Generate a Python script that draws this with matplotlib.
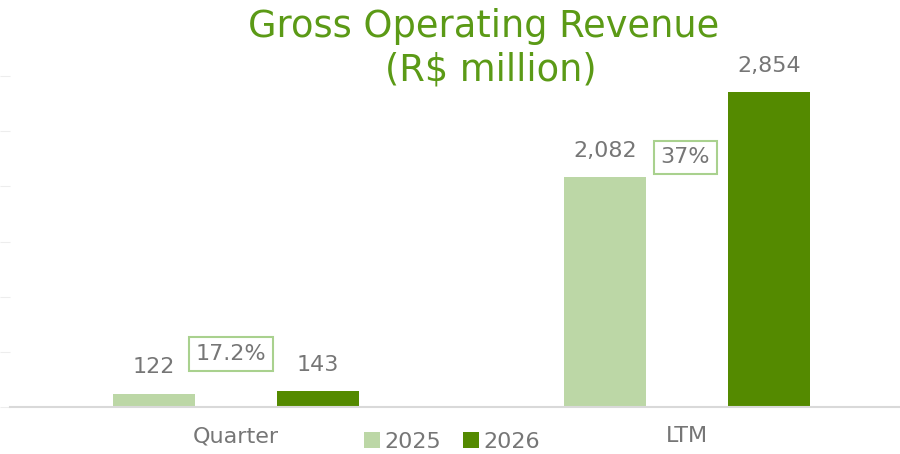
import matplotlib
matplotlib.use("Agg")
import matplotlib.pyplot as plt
import numpy as np

categories = ["Quarter", "LTM"]
series_names = ["2025", "2026"]
values_2025 = [122, 2082]
values_2026 = [143, 2854]
growth_labels = ["17.2%", "37%"]
value_labels_2025 = ["122", "2,082"]
value_labels_2026 = ["143", "2,854"]

title_lines = ["Gross Operating Revenue", "(R$ million)"]

c_light = "#BCD7A6"
c_dark = "#548A00"
c_title = "#5B9A16"
c_text = "#767676"
c_box = "#A9D18E"

plt.rcParams['font.family'] = ['DejaVu Sans']

fig = plt.figure(figsize=(9, 4.54), dpi=100)
ax = fig.add_axes([10/900, 1-407/454, 890/900, (407-21)/454])

x = np.arange(len(categories))
w = 0.182
off = 0.182
b1 = ax.bar(x - off, values_2025, w, color=c_light, label=series_names[0])
b2 = ax.bar(x + off, values_2026, w, color=c_dark, label=series_names[1])

for xi, v, lab in zip(x - off, values_2025, value_labels_2025):
    ax.annotate(lab, (xi, v), xytext=(0, 12), textcoords="offset points",
                ha="center", va="bottom", fontsize=16, color=c_text)
for xi, v, lab in zip(x + off, values_2026, value_labels_2026):
    ax.annotate(lab, (xi, v), xytext=(0, 12), textcoords="offset points",
                ha="center", va="bottom", fontsize=16, color=c_text)

box_y = [480, 2265]
box_dx = [-0.011, -0.004]
for xi, by, dx, lab in zip(x, box_y, box_dx, growth_labels):
    ax.text(xi + dx, by, lab, ha="center", va="center", fontsize=16, color=c_text,
            bbox=dict(boxstyle="square,pad=0.3", fc="white", ec=c_box, lw=1.5))

ax.set_xlim(-0.501, 1.472)
ax.set_ylim(0, 3500)
ax.set_yticks(np.arange(0, 3001, 500))
ax.tick_params(axis="y", length=7, color="#EDEDED", labelleft=False)
ax.set_xticks(x)
ax.set_xticklabels(categories, fontsize=16, color=c_text)
ax.tick_params(axis="x", length=0, pad=14)
for s in ["top", "right", "left"]:
    ax.spines[s].set_visible(False)
ax.spines["bottom"].set_color("#D9D9D9")
ax.spines["bottom"].set_linewidth(1.5)

fig.text(484/900, 1 - 37/454, title_lines[0], ha="center", va="baseline",
         fontsize=26.5, color=c_title)
fig.text(491/900, 1 - 80/454, title_lines[1], ha="center", va="baseline",
         fontsize=26.5, color=c_title)

fig.legend(handles=[b1, b2], labels=series_names, loc="center",
           bbox_to_anchor=(452/900, 1 - 442/454), ncol=2, frameon=False,
           fontsize=16, handlelength=0.7, handleheight=0.7, handletextpad=0.2,
           columnspacing=1.0, labelcolor=c_text)

fig.savefig("out.png", dpi=100)
